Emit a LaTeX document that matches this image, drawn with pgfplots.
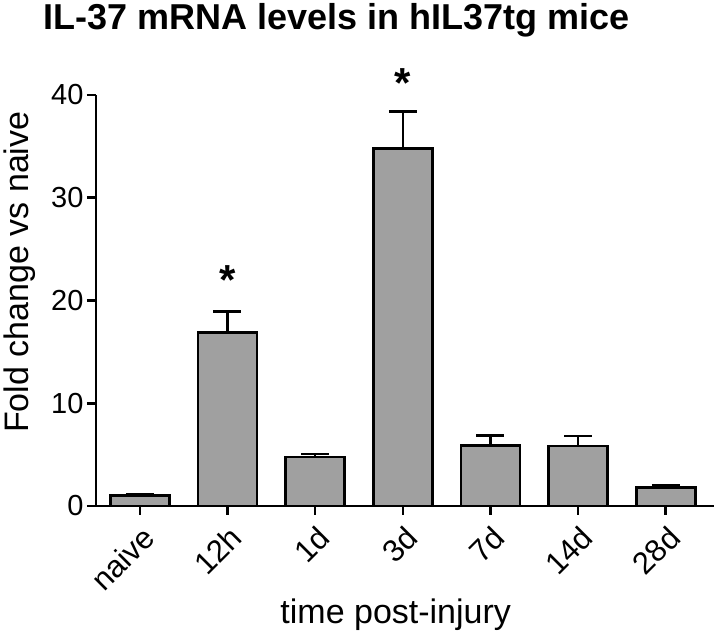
\documentclass[border=0pt]{standalone}
\usepackage{fontspec}
\setmainfont{Liberation Sans}
\usepackage{pgfplots}
\pgfplotsset{compat=1.18}

\definecolor{bargray}{HTML}{A0A0A0}

\begin{document}
\begin{tikzpicture}
\begin{axis}[
    scale only axis,
    width=618bp, height=411bp,
    xmin=-0.5, xmax=6.55,
    ymin=0, ymax=40,
    ytick={0,10,20,30,40},
    xtick={0,1,2,3,4,5,6},
    xticklabels={naive,12h,1d,3d,7d,14d,28d},
    axis x line*=bottom,
    axis y line*=left,
    axis line style={-, line width=2.6bp, black},
    tick align=outside,
    major tick length=9bp,
    tick style={line width=2.6bp, black},
    /pgf/number format/assume math mode=true,
    ticklabel style={font=\fontsize{29bp}{35bp}\selectfont},
    xticklabel style={font=\fontsize{31bp}{36bp}\selectfont, rotate=45, anchor=north east, inner sep=2bp, xshift=-4bp, yshift=-5bp},
    ylabel={Fold change vs naive},
    ylabel style={font=\fontsize{34bp}{40bp}\selectfont, at={(rel axis cs:-0.123,0.569)}, anchor=center, rotate=0},
    xlabel={time post-injury},
    xlabel style={font=\fontsize{34bp}{40bp}\selectfont, at={(rel axis cs:0.485,-0.287)}, anchor=base},
    title={IL-37 mRNA levels in hIL37tg mice},
    title style={font=\fontsize{36bp}{42bp}\selectfont\bfseries, at={(rel axis cs:-0.086,1.146)}, anchor=base west, inner sep=0pt},
    clip=false,
]
\addplot[ybar, bar width=59bp, fill=bargray, draw=black, line width=2.6bp,
    error bars/.cd, y dir=plus, y explicit,
    error bar style={line width=2.6bp, black},
    error mark options={rotate=90, mark size=14bp, line width=2.6bp, black}]
coordinates {
    (0,1.0) +- (0,0.12)
    (1,16.9) +- (0,2.0)
    (2,4.75) +- (0,0.3)
    (3,34.8) +- (0,3.6)
    (4,5.9) +- (0,0.95)
    (5,5.85) +- (0,0.95)
    (6,1.8) +- (0,0.2)
};
\node[font=\fontsize{42bp}{42bp}\selectfont\bfseries, inner sep=0pt] at (axis cs:1,22.0) {*};
\node[font=\fontsize{42bp}{42bp}\selectfont\bfseries, inner sep=0pt] at (axis cs:3,41.2) {*};
\coordinate (bbll) at (rel axis cs:-0.15534,-0.318735);
\coordinate (bbur) at (rel axis cs:1.004854,1.231144);
\end{axis}
\pgfresetboundingbox
\useasboundingbox (bbll) rectangle (bbur);
\end{tikzpicture}
\end{document}
